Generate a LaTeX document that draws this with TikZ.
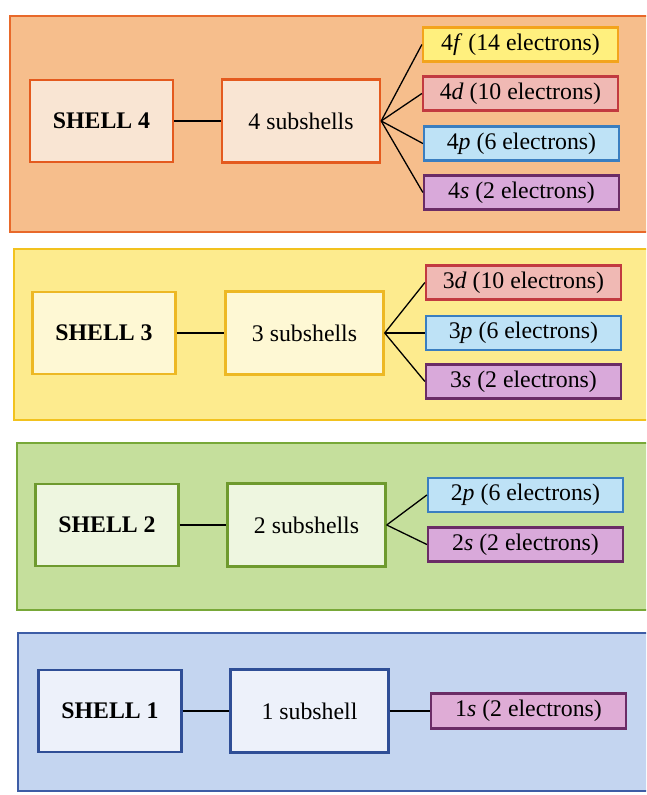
\documentclass[tikz,border=0pt]{standalone}
\usepackage{fontspec}
\setmainfont{Liberation Serif}
\usepackage{tikz}
\usetikzlibrary{positioning}

% colours
\definecolor{orFill}{HTML}{F6BE8C}
\definecolor{orLine}{HTML}{E8692A}
\definecolor{orBox}{HTML}{F9E5D3}
\definecolor{orBoxLine}{HTML}{E45A1E}
\definecolor{yeFill}{HTML}{FDEB8E}
\definecolor{yeLine}{HTML}{F2C21E}
\definecolor{yeBox}{HTML}{FEF8D4}
\definecolor{yeBoxLine}{HTML}{EDB824}
\definecolor{grFill}{HTML}{C5DF9C}
\definecolor{grLine}{HTML}{78A838}
\definecolor{grBox}{HTML}{EEF6E0}
\definecolor{grBoxLine}{HTML}{6E9A2E}
\definecolor{blFill}{HTML}{C4D5F0}
\definecolor{blLine}{HTML}{3D5DA6}
\definecolor{blBox}{HTML}{EDF1FA}
\definecolor{blBoxLine}{HTML}{2F4E96}
\definecolor{fFill}{HTML}{FFF07E}
\definecolor{fLine}{HTML}{F3A41C}
\definecolor{dFill}{HTML}{F0B9B4}
\definecolor{dLine}{HTML}{C23A40}
\definecolor{pFill}{HTML}{BEE2F6}
\definecolor{pLine}{HTML}{3A7EC0}
\definecolor{sFill}{HTML}{D9A9DA}
\definecolor{sLine}{HTML}{6B2C66}

\newcommand{\boxfont}{\fontsize{23.8}{28}\selectfont}

\tikzset{
  panel/.style={line width=2pt},
  shellbox/.style={draw, line width=2.4pt, minimum width=143pt, minimum height=82pt, inner sep=0pt, font=\boxfont\bfseries},
  subbox/.style={draw, line width=2.4pt, minimum width=158pt, minimum height=83pt, inner sep=0pt, font=\boxfont},
  orbbox/.style={draw, line width=2.2pt, minimum width=195pt, minimum height=34pt, inner sep=0pt, font=\boxfont},
  orbf/.style={orbbox, fill=fFill, draw=fLine},
  orbd/.style={orbbox, fill=dFill, draw=dLine},
  orbp/.style={orbbox, fill=pFill, draw=pLine},
  orbs/.style={orbbox, fill=sFill, draw=sLine},
  link/.style={line width=1.3pt},
}

\begin{document}
\begin{tikzpicture}[x=1pt, y=-1pt]

\clip (0,0) rectangle (646,795);
\fill[white] (0,0) rectangle (646,795);

% Hintergrundfelder
\filldraw[panel, fill=orFill, draw=orLine] (10,16) rectangle (660,232);
\filldraw[panel, fill=yeFill, draw=yeLine] (14,249) rectangle (660,420);
\filldraw[panel, fill=grFill, draw=grLine] (17,443) rectangle (660,610);
\filldraw[panel, fill=blFill, draw=blLine] (18,633) rectangle (660,791);

% Schale 4
\node[shellbox, fill=orBox, draw=orBoxLine] (sh4) at (101.5,121) {SHELL 4};
\node[subbox, fill=orBox, draw=orBoxLine] (sub4) at (301,121) {4 subshells};
\node[orbf] (o4f) at (520.5,44.5) {4\textit{f} (14 electrons)};
\node[orbd] (o4d) at (520.5,93.5) {4\textit{d} (10 electrons)};
\node[orbp] (o4p) at (521.5,143.5) {4\textit{p} (6 electrons)};
\node[orbs] (o4s) at (521.5,192.5) {4\textit{s} (2 electrons)};

\draw[link] (sh4.east) -- (sub4.west);
\draw[link] (sub4.east) -- (o4f.west);
\draw[link] (sub4.east) -- (o4d.west);
\draw[link] (sub4.east) -- (o4p.west);
\draw[link] (sub4.east) -- (o4s.west);

% Schale 3
\node[shellbox, fill=yeBox, draw=yeBoxLine] (sh3) at (104,333) {SHELL 3};
\node[subbox, fill=yeBox, draw=yeBoxLine] (sub3) at (304.5,333) {3 subshells};
\node[orbd] (o3d) at (523.5,282.5) {3\textit{d} (10 electrons)};
\node[orbp] (o3p) at (523.5,333) {3\textit{p} (6 electrons)};
\node[orbs] (o3s) at (523.5,381.5) {3\textit{s} (2 electrons)};

\draw[link] (sh3.east) -- (sub3.west);
\draw[link] (sub3.east) -- (o3d.west);
\draw[link] (sub3.east) -- (o3p.west);
\draw[link] (sub3.east) -- (o3s.west);

% Schale 2
\node[shellbox, fill=grBox, draw=grBoxLine] (sh2) at (107,525) {SHELL 2};
\node[subbox, fill=grBox, draw=grBoxLine] (sub2) at (306.5,525) {2 subshells};
\node[orbp] (o2p) at (525.5,495) {2\textit{p} (6 electrons)};
\node[orbs] (o2s) at (525.5,544.5) {2\textit{s} (2 electrons)};

\draw[link] (sh2.east) -- (sub2.west);
\draw[link] (sub2.east) -- (o2p.west);
\draw[link] (sub2.east) -- (o2s.west);

% Schale 1
\node[shellbox, fill=blBox, draw=blBoxLine] (sh1) at (110,711) {SHELL 1};
\node[subbox, fill=blBox, draw=blBoxLine] (sub1) at (309.5,711) {1 subshell};
\node[orbs, fill=sFill!85!pink, minimum height=35pt] (o1s) at (528.5,711) {1\textit{s} (2 electrons)};

\draw[link] (sh1.east) -- (sub1.west);
\draw[link] (sub1.east) -- (o1s.west);

\end{tikzpicture}
\end{document}
